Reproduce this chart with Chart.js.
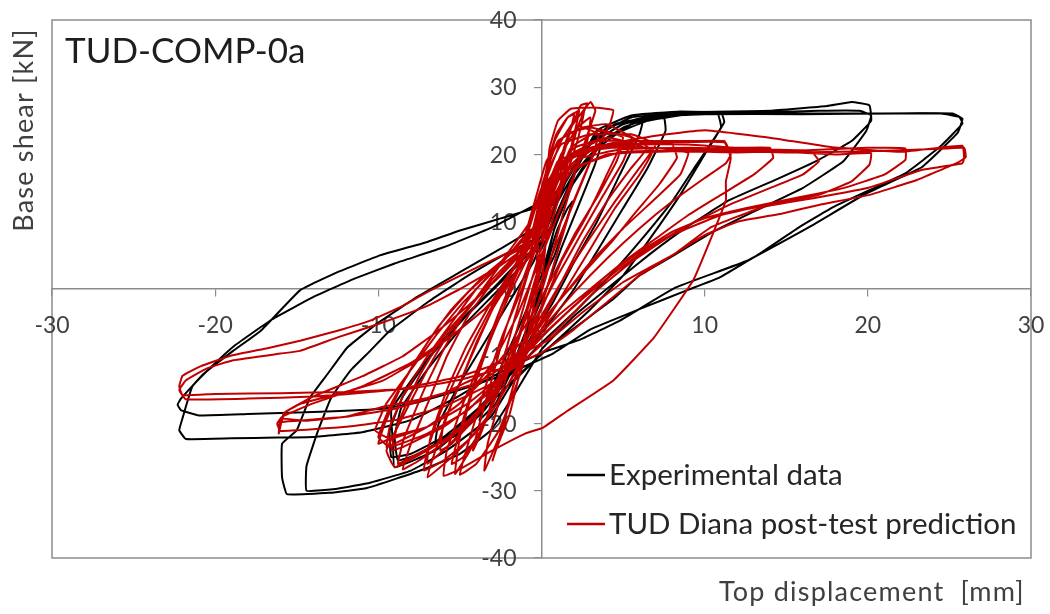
<!DOCTYPE html>
<html>
<head>
<meta charset="utf-8">
<script src="https://cdn.jsdelivr.net/npm/chart.js@4.4.1/dist/chart.umd.min.js"></script>
<style>
  html, body { margin: 0; padding: 0; background: #fff; }
  #wrap { width: 1050px; height: 614px; }
</style>
</head>
<body>
<div id="wrap"><canvas id="hyst" width="1050" height="614"></canvas></div>
<script>
// values: [top displacement mm, base shear kN]

const xTickLabels = [-30, -20, -10, 0, 10, 20, 30];
const yTickLabels = [-40, -30, -20, -10, 0, 10, 20, 30, 40];

const seriesNames = ['Experimental data', 'TUD Diana post-test prediction'];

// experimental data, cycle by cycle
const expLoop1 = [[0,0],[0.5,5],[1,9],[1.6,12],[1.9,13],[1.5,10],[0.8,5],[0,1],[-0.6,-4],[-1.2,-9],[-1.7,-12],[-1.9,-12.5],[-1.4,-9],[-0.6,-4],[0,0]];
const expLoop2 = [[0.3,4],[1,11],[2,17],[3,20],[3.6,21],[3.2,18],[2.2,12],[1.2,6],[0.3,0],[-0.8,-6],[-1.8,-12],[-2.8,-17],[-3.6,-19],[-3.8,-19.5],[-3.1,-15],[-2,-9],[-0.9,-3],[0,2]];
const expLoop3 = [[0.8,9],[2,16],[3.5,21.5],[5,24],[6.2,25],[6,23],[4.8,17],[3.4,10],[2,4],[0.7,-2],[-0.6,-7],[-2,-13],[-3.5,-18],[-5,-21.5],[-6.5,-23],[-6.3,-20],[-5,-14],[-3.5,-8],[-2,-2],[-0.5,4]];
const expLoop4 = [[0.5,10],[1.5,16],[3,21.5],[5,24.5],[7.5,25.8],[11,26.2],[11.2,24.8],[10,20],[8.5,14],[6.8,8],[5,2],[3,-3],[1,-7.5],[-1.5,-13],[-4,-19],[-6.5,-24],[-9,-26.5],[-9.1,-23],[-9.2,-18],[-7.5,-12],[-5.5,-6],[-3,0],[-1,5]];
const expLoop5 = [[0,6],[1.5,14],[3.5,21],[5.5,24.5],[7.5,25.5],[7.6,23.5],[6.5,18],[5,12],[3.5,6],[2,0],[0.5,-5],[-1.5,-11],[-3.5,-17],[-5.5,-21.5],[-7.5,-24.5],[-8.8,-25.5],[-9,-22],[-8.6,-17.7],[-7,-12],[-5,-6],[-3,-1],[-1,4]];
const expLoop6 = [[0.5,9],[2,17],[4,22.5],[6.5,25],[9,26],[10.8,26],[11,24],[9.5,18.5],[8,13],[6,7],[4.2,2],[2.2,-3],[0,-8],[-2,-13],[-4,-18],[-6,-22],[-8,-24.5],[-9.2,-25],[-9.3,-21],[-8.5,-16],[-6.8,-10],[-4.8,-4.5],[-2.5,1],[-0.5,6]];
const expLoop7 = [[0,8],[1.5,16],[3.2,22.5],[5.5,25.5],[9,26.3],[14,26.5],[17.5,27.2],[19,27.8],[20.1,27.3],[20.2,25],[19,22],[16.9,19.1],[14.3,16.2],[11.5,13.2],[8.9,9.2],[6.7,5.3],[4.5,1],[2,-4],[0,-9],[-1.5,-15],[-3.1,-21],[-5,-24.5],[-7.2,-26.8],[-10.7,-29.6],[-13,-30.3],[-15.6,-30.5],[-15.9,-28],[-15.9,-23],[-15,-21],[-14.2,-16.2],[-13.1,-12.6],[-11.9,-8.7],[-10,-5],[-7.5,-1],[-5,2.5],[-2.5,6],[-0.5,9]];
const expLoop8 = [[0.8,13],[2.5,20.5],[4.5,24.5],[8,26],[13,26.2],[17,26.5],[19.5,26.5],[20.2,25.8],[19.9,23.5],[18.5,19],[16,15],[13,11.5],[10.5,8.5],[8.1,5],[6,2],[4.4,-1.5],[2.4,-5.1],[0.3,-9],[-1.8,-14],[-3.1,-19],[-5.8,-24],[-8,-27],[-10.5,-28.8],[-12.5,-29.7],[-14.4,-30],[-14.4,-26.3],[-13.7,-21.1],[-12.9,-16.2],[-11.7,-12.1],[-10.5,-9.2],[-9.3,-6.2],[-7,-2],[-4.5,2],[-2,5.5],[0,8]];
const expLoop9 = [[1,13],[2.4,19],[3.4,23.6],[5.5,25.8],[8.5,26.4],[14,26.1],[20,26.1],[24.5,26.1],[25.6,25.6],[25.8,24.6],[24.4,21.1],[22.3,17.2],[20.1,14.7],[17.9,12.2],[15.8,9.2],[13.4,5.3],[10.9,1.7],[8.9,-0.2],[6,-3],[3,-6],[0.7,-9.6],[-2,-12.5],[-5,-15],[-7.5,-16.8],[-9.7,-17.8],[-14,-18.3],[-18,-18.6],[-21,-18.8],[-22.1,-18],[-22.3,-17.2],[-22.1,-16.3],[-20.7,-12.6],[-18.9,-9.2],[-17.2,-6.2],[-14.8,-0.2],[-12.5,2.5],[-9.9,5],[-7,7],[-5,8.7],[-2.5,10.5],[0,12.4]];
const expLoop10 = [[1.5,16],[2.6,20.5],[4,24],[6.5,25.6],[10,26],[16,26],[22,26.1],[25.2,26.1],[25.8,25.3],[25.5,23.2],[23.3,18.1],[19.9,14.2],[16.4,9.2],[12.6,4.2],[8.2,0.2],[4.8,-4.7],[2.4,-7.5],[0,-9.5],[-3,-13],[-5.5,-16.5],[-8,-19.5],[-11,-21.3],[-14,-22],[-16.2,-22.1],[-19,-22.2],[-21.8,-22.3],[-22.2,-21],[-22,-19.2],[-21.4,-14.5],[-20.2,-11.5],[-18.8,-8.4],[-16.5,-4.5],[-14,-1.2],[-11.5,1.5],[-9,3.8],[-6,6.2],[-3,9.2],[-0.7,12.1],[1,14]];

// numerical prediction, cycle by cycle
const numLoop1 = [[0,0],[0.3,8],[0.8,16],[1.5,22],[2.4,27.3],[2.8,27.6],[2.2,24],[1.2,15],[0.2,6],[-0.6,-4],[-1.3,-12],[-2,-19],[-2.8,-24],[-3,-25.5],[-2.3,-20],[-1.4,-11],[-0.6,-2],[0,4]];
const numLoop2 = [[-0.5,9],[0,14],[0.4,19],[0.9,23],[1.6,25.5],[2,26],[1.6,22],[0.6,14],[-0.5,5],[-1.6,-4],[-2.5,-12],[-3.2,-18],[-3.8,-22],[-4.2,-24],[-3.8,-20],[-3,-13],[-2.2,-6],[-1.2,1],[-0.3,7],[0,9]];
const numLoop3 = [[0.4,10],[1,18],[1.8,24],[3,27.8],[3.3,26.5],[2.4,20],[1.3,11],[0.3,2],[-0.8,-7],[-1.8,-15],[-2.6,-22],[-3.5,-27],[-3.3,-23],[-2.4,-15],[-1.2,-6],[-0.3,2]];
const numLoop4 = [[-0.3,10],[0.4,17],[1.2,22],[2,25],[2.6,26.3],[2.2,22],[1,13],[-0.2,3],[-1.4,-7],[-2.6,-15],[-3.7,-21],[-4.8,-25],[-5.5,-26],[-5,-21],[-4,-13],[-3,-6],[-2,0],[-0.8,6]];
const numLoop5 = [[-0.3,6],[0.2,14],[0.5,21],[1,25],[1.8,26.8],[3.2,27],[4.4,26.6],[4.2,24.6],[3,19],[1.8,12],[0.8,4],[-0.3,-5],[-1.5,-14],[-2.6,-21],[-4,-26],[-5,-27.6],[-4.5,-23],[-3.5,-15],[-2.4,-7],[-1.2,0]];
const numLoop6 = [[-0.5,5],[0,12],[0.4,18],[1,22],[2.5,24],[4,24.5],[6.5,21.1],[5.5,18],[4,13],[2.5,7],[1,0],[-0.5,-7],[-2,-14],[-3.5,-20],[-5.5,-25],[-7,-28],[-6.5,-24],[-5.5,-17],[-4.3,-10],[-3,-3],[-1.7,3]];
const numLoop7 = [[0,9],[0.7,15],[1.8,20],[3.5,22],[5,22],[6.8,20.5],[6,17],[4.5,12],[3,6],[1.5,0],[0,-6],[-1.5,-12],[-3,-18],[-4.5,-22.5],[-6,-25.5],[-7.2,-27],[-7,-24],[-6.3,-19],[-5.2,-13],[-4,-7],[-2.7,-1],[-1.3,5]];
const numLoop8 = [[-1,8],[-0.3,14],[0.3,19],[1.3,22.5],[2.5,24],[3.5,23],[3,19],[2,13],[0.8,6],[-0.5,-2],[-2,-10],[-3.5,-17],[-5.5,-22],[-7.5,-25.5],[-8.5,-26.8],[-8,-23],[-6.8,-16],[-5.8,-10],[-4.5,-4],[-3,1],[-1.5,5]];
const numLoop9 = [[-0.5,9],[0,15],[0.6,20],[1.5,23],[3,24],[5,22.5],[4,17],[2.8,11],[1.2,4],[0,-3],[-1.5,-10],[-3,-16],[-5,-21],[-7,-24],[-9,-26.5],[-9.5,-24],[-8.5,-19],[-7,-12],[-5.8,-7],[-4.2,-2],[-2.7,3],[-1,8]];
const numLoop10 = [[0,10],[0.8,17],[2,21],[4,22.5],[5,22],[4.6,19],[3.5,14],[2,8],[0.5,1],[-1,-5.5],[-3,-12],[-5,-17],[-7,-20.5],[-9,-23],[-9.5,-23.5],[-9.3,-20.5],[-8.5,-16],[-7,-10],[-5.5,-5],[-4,0],[-2,5]];
const numLoop11 = [[-0.5,7],[0.3,14],[1.2,20],[2.2,24],[3,25.5],[2.8,22],[1.5,14],[0,5],[-1.5,-4],[-3,-11],[-5,-17],[-7,-20.5],[-9.5,-22.5],[-10,-23],[-9.6,-20],[-8.5,-14],[-7,-8],[-5.5,-3],[-3.5,2],[-1.5,6]];
const numLoop12 = [[0,8],[0.8,15],[1.8,21],[3.5,23.5],[5.5,22.5],[5,19],[3.8,14],[2.5,8.5],[1,2],[-0.5,-5],[-2,-12],[-4,-18.5],[-6,-22.5],[-8,-25],[-8.8,-26],[-8.4,-22],[-7.2,-15],[-6,-9],[-4.8,-4],[-3,1.5],[-1,6.5]];
const numLoop13 = [[-0.3,9],[0.2,16],[0.8,22],[1.6,25.5],[2.3,26.5],[1.8,21],[0.7,12],[-0.4,3],[-1.5,-6],[-2.5,-14],[-3.5,-20],[-4.5,-24.5],[-5.3,-27.5],[-5,-22],[-4.2,-15],[-3.2,-8],[-2,-1],[-0.8,5]];
const numLoop14 = [[-1.2,5],[-0.5,11],[0.3,17],[1.2,21.5],[3,23],[5.5,23],[7,21.5],[6,18],[4.5,13],[2.8,7],[1.2,1],[-0.5,-6],[-2.5,-13],[-4.5,-18],[-7,-21.5],[-9.3,-23.5],[-10,-22],[-9.2,-17],[-7.8,-11],[-6.3,-5.5],[-4.5,-0.5],[-2.5,4]];
const numLoop15 = [[0,10],[1.2,17],[3,21],[5.5,22],[8,21.5],[8.3,19.5],[7.2,15.5],[5.8,11.5],[4.3,7],[2.8,3],[1,-2],[-0.8,-8],[-2.5,-14],[-4,-19],[-5.8,-23.5],[-7,-26],[-6.8,-22],[-5.8,-15],[-4.6,-8.5],[-3.2,-2.5],[-1.5,4]];
const numLoop16 = [[0,9],[1,16],[3,20.5],[6,21.5],[9,21.5],[12,21],[14,21],[14.2,19.5],[13,17],[11,14],[9,11],[7,7.5],[5,4],[3,0],[1,-4],[-1,-9],[-2.5,-14],[-4,-19],[-5.5,-23],[-6.2,-24],[-6,-20],[-5,-14],[-4,-8],[-3,-3],[-1.5,3]];
const numLoop17 = [[-0.3,10],[0.5,16],[2,20],[5,21.5],[8,21.8],[11.2,21.8],[11.6,19.5],[11.3,16],[11.3,13.2],[10.3,7],[9.3,1.3],[6.9,-7.2],[4.4,-13.6],[1.6,-18.1],[0.1,-20.6],[-1,-21.5],[-3,-24],[-5,-26.8],[-6,-27.8],[-5.8,-24],[-4.8,-17],[-3.6,-10],[-2.5,-3],[-1.2,4]];
const numLoop18 = [[-0.7,10.2],[0,14],[1,18.5],[3,21],[6,22],[9,22],[11.2,22],[11.6,20],[11.3,18.7],[10,16.5],[8,13],[6,9],[4,4.5],[2,-0.5],[0,-6],[-2,-11],[-4,-14],[-7,-16.2],[-9.7,-17.5],[-12,-19],[-14.5,-19.6],[-16,-19.3],[-16.1,-21.5],[-15.8,-18.5],[-14.8,-17.1],[-11.7,-15.1],[-9.7,-13.6],[-7.5,-10.5],[-5.5,-7],[-3.5,-3],[-2,1],[-0.7,5]];
const numLoop19 = [[-0.5,8],[0.5,15],[2.5,19.5],[5,20.8],[9,21],[13,20.8],[16.5,20.5],[17,19],[16,17],[14,15],[11.5,12.5],[9,9.5],[6.5,6],[4.5,2.5],[2.5,-1.5],[0.5,-6],[-1.5,-11],[-3.5,-16],[-6,-20.5],[-8.5,-23.5],[-9.2,-24],[-8.8,-20],[-7.5,-13],[-6,-7],[-4,-1.5],[-2,3.5]];
const numLoop20 = [[0,11],[1,17.5],[2.5,20.5],[5,21.2],[8,20.8],[9,20.2],[8.5,17],[7,13.5],[5,9],[3,4],[1,-2],[-1,-7.5],[-3.5,-12.5],[-6,-15.5],[-9,-17.8],[-12,-19],[-15,-19.6],[-16,-19.8],[-16.1,-20.8],[-15.7,-18.3],[-14,-16],[-11,-13],[-8.5,-10],[-6.5,-6.5],[-4.5,-2.5],[-2.5,2],[-1,6]];
const numLoop21 = [[0.2,14],[1,19],[3,21],[6,21],[10,20.8],[14,20.5],[18,20],[20.2,20.2],[20.1,18.5],[19,16],[17,14],[14.5,12.8],[11,11],[8,8],[5.5,4],[3,-1],[1,-6],[-1,-10.5],[-3,-14],[-6,-17.5],[-9,-19.5],[-12,-20.5],[-16,-21.1],[-16.2,-20],[-15.9,-19],[-14,-17],[-11,-14.5],[-8,-11],[-5,-6],[-2.5,-1],[-0.8,5]];
const numLoop22 = [[0.2,11],[1.5,17],[4,20],[8,20.5],[12,20.3],[16,20.6],[20,21],[22.3,20.9],[22.3,19.2],[21,17],[18.5,15],[15.5,13.5],[12.5,12],[10,10.5],[8,8.5],[6,5.5],[4,2],[2,-2.5],[0,-7],[-2,-12],[-4.5,-17],[-7,-20.5],[-9.5,-22],[-10.2,-21],[-9.5,-17],[-8,-12],[-6.5,-7],[-4.8,-2],[-2.8,3]];
const numLoop23 = [[-0.7,10],[0,15],[1.5,19],[4,21.5],[7,22.8],[10,23.6],[14,22.5],[17.7,21.1],[22,20.4],[25.8,21.3],[25.9,19.5],[25.8,18.7],[23.3,17.7],[20.1,15.1],[16.9,13.6],[13.6,12.2],[10.4,9.2],[8.2,5.3],[6,2],[4,-2],[2,-6],[0,-9.5],[-2,-11.5],[-5,-13.5],[-8,-14.8],[-12,-15.3],[-16,-15.5],[-20,-15.6],[-22,-15.8],[-22.2,-14.5],[-22,-12.9],[-20.9,-11.5],[-19,-9.9],[-16.8,-8.8],[-14.8,-7.7],[-12.5,-6.2],[-10.5,-4.7],[-8.5,-2.5],[-6.8,-0.2],[-3.7,3.5],[-1.5,6],[0,7.2]];
const numLoop24 = [[0.5,12],[2,18],[5,20.4],[10,20.6],[15,20.3],[20,20.5],[24,20.8],[25.9,21],[26,19.6],[25.5,18.8],[23,16.2],[20.1,14],[17,12.5],[14.7,11.2],[12,10],[10,8],[8,5],[5,1],[2.5,-3.5],[0.5,-7.5],[-2,-10.5],[-5,-13],[-9,-15],[-14,-16],[-18,-16.3],[-21.8,-16.4],[-22.2,-15],[-21.8,-13.6],[-20.5,-11.8],[-18.9,-10.6],[-16,-9.6],[-14.8,-9.2],[-12.5,-7.2],[-10,-5.2],[-7,-2.5],[-5,0],[-2.5,3.5],[-0.5,7]];

const expPath = [...expLoop1, ...expLoop2, ...expLoop3, ...expLoop4, ...expLoop5,
                 ...expLoop6, ...expLoop7, ...expLoop8, ...expLoop9, ...expLoop10];
const numPath = [...numLoop1, ...numLoop2, ...numLoop3, ...numLoop4, ...numLoop5, ...numLoop6, ...numLoop7, ...numLoop8,
                 ...numLoop9, ...numLoop10, ...numLoop11, ...numLoop12, ...numLoop13, ...numLoop14, ...numLoop15, ...numLoop16,
                 ...numLoop17, ...numLoop18, ...numLoop19, ...numLoop20, ...numLoop21, ...numLoop22, ...numLoop23, ...numLoop24];

const toPoints = path => path.map(([x, y]) => ({ x, y }));

const FONT = 'Lato, "Open Sans", sans-serif';

function spacedText(ctx, text, x, y, spacing) {
    if ('letterSpacing' in ctx) {
        ctx.letterSpacing = spacing + 'px';
        ctx.fillText(text, x, y);
        ctx.letterSpacing = '0px';
    } else {
        ctx.fillText(text, x, y);
    }
}

// frame, tick labels, titles and legend (excel style)
const decor = {
    id: 'decor',
    beforeDraw(chart) {
        const ctx = chart.ctx;
        ctx.save();
        ctx.fillStyle = '#fff';
        ctx.fillRect(0, 0, chart.width, chart.height);
        ctx.restore();
    },
    beforeDatasetsDraw(chart) {
        const { ctx, chartArea: a, scales: { x, y } } = chart;
        ctx.save();
        ctx.strokeStyle = '#8c8c8c';
        ctx.lineWidth = 1.5;
        ctx.strokeRect(a.left, a.top, a.right - a.left, a.bottom - a.top);

        ctx.fillStyle = '#404040';
        ctx.font = '23px ' + FONT;
        const y0 = y.getPixelForValue(0);
        const x0 = x.getPixelForValue(0);
        ctx.textAlign = 'center';
        xTickLabels.forEach(v => ctx.fillText(String(v), x.getPixelForValue(v), y0 + 44));
        ctx.textAlign = 'right';
        yTickLabels.forEach(v => ctx.fillText(String(v), x0 - 25, y.getPixelForValue(v) + 8));
        ctx.restore();
    },
    afterDatasetsDraw(chart) {
        const { ctx, chartArea: a } = chart;
        ctx.save();
        ctx.fillStyle = '#1e1e1e';
        ctx.font = '35px ' + FONT;
        ctx.textAlign = 'left';
        ctx.fillText('TUD-COMP-0a', a.left + 13, 63);

        ctx.fillStyle = '#404040';
        ctx.font = '27px ' + FONT;
        spacedText(ctx, 'Top displacement  [mm]', 719, 601, 1.2);
        ctx.save();
        ctx.translate(33, 130);
        ctx.rotate(-Math.PI / 2);
        ctx.textAlign = 'center';
        ctx.font = '27px ' + FONT;
        spacedText(ctx, 'Base shear [kN]', 0, 0, 1.2);
        ctx.restore();

        // legend
        ctx.font = '29.5px ' + FONT;
        ctx.fillStyle = '#262626';
        chart.data.datasets.forEach((ds, i) => {
            const ly = 475 + i * 49;
            ctx.strokeStyle = ds.borderColor;
            ctx.lineWidth = 2.5;
            ctx.beginPath();
            ctx.moveTo(567, ly);
            ctx.lineTo(605, ly);
            ctx.stroke();
            ctx.fillText(ds.label, 609, ly + 10);
        });
        ctx.restore();
    }
};

const axisStyle = {
    type: 'linear',
    ticks: { display: false, stepSize: 10 },
    grid: { drawOnChartArea: false, drawTicks: true, tickLength: 7, color: '#8c8c8c', lineWidth: 1.2 },
    border: { display: true, color: '#8c8c8c', width: 1.5 }
};

new Chart(document.getElementById('hyst'), {
    type: 'scatter',
    data: {
        datasets: [
            {
                label: seriesNames[0],
                data: toPoints(expPath),
                showLine: true,
                borderColor: '#000000',
                borderWidth: 2,
                pointRadius: 0,
                tension: 0.1,
                order: 2
            },
            {
                label: seriesNames[1],
                data: toPoints(numPath),
                showLine: true,
                borderColor: '#c00000',
                borderWidth: 2,
                pointRadius: 0,
                tension: 0.1,
                order: 1
            }
        ]
    },
    options: {
        responsive: false,
        devicePixelRatio: 1,
        animation: false,
        layout: { padding: { left: 52, top: 20, right: 19, bottom: 56 } },
        plugins: { legend: { display: false }, tooltip: { enabled: false } },
        scales: {
            x: { ...axisStyle, min: -30, max: 30, position: { y: 0 } },
            y: { ...axisStyle, min: -40, max: 40, position: { x: 0 } }
        }
    },
    plugins: [decor]
});
</script>
</body>
</html>
